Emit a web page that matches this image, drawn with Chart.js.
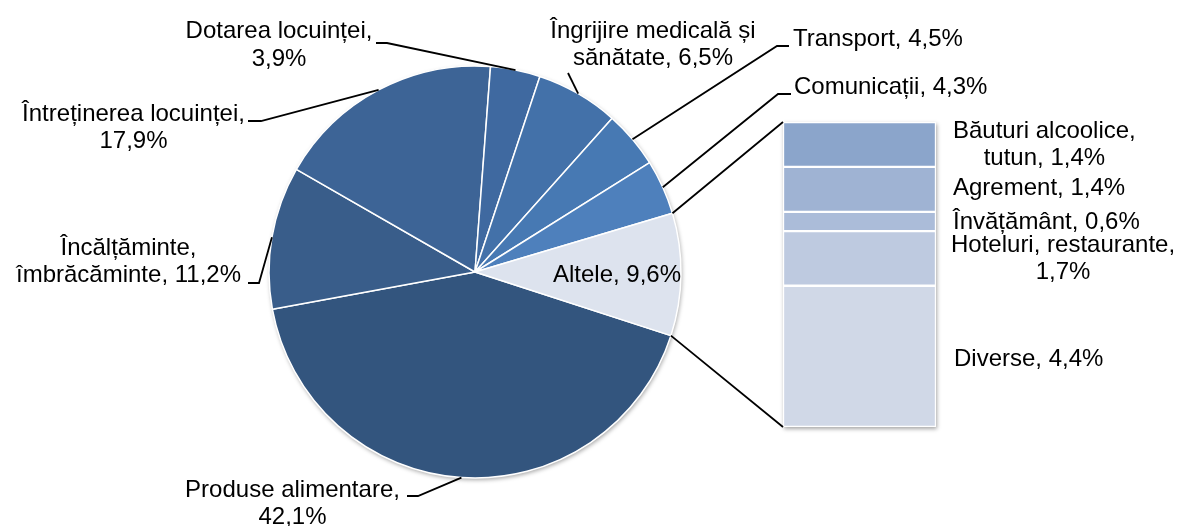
<!DOCTYPE html>
<html>
<head>
<meta charset="utf-8">
<script src="https://cdn.jsdelivr.net/npm/chart.js@4"></script>
<style>
  body { margin: 0; background: #fff; }
  #wrap { position: relative; width: 1179px; height: 526px; }
  canvas { position: absolute; left: 0; top: 0; }
</style>
</head>
<body>
<div id="wrap">
  <canvas id="pieChart" width="1179" height="526"></canvas>
  <canvas id="barChart" width="1179" height="526"></canvas>
</div>
<script>
// main pie, clockwise from the lower edge of "Altele"
const pieLabels = ["Produse alimentare", "Încălțăminte, îmbrăcăminte", "Întreținerea locuinței", "Dotarea locuinței",
  "Îngrijire medicală și sănătate", "Transport", "Comunicații", "Altele"];
const pieValues = [42.1, 11.2, 17.9, 3.9, 6.5, 4.5, 4.3, 9.6];
const pieColors = ["#33557e", "#395d8a", "#3d6496", "#3f69a0", "#4371a9", "#4779b3", "#4e80bc", "#dde3ee"];

// breakdown of "Altele", bottom to top
const barLabels = ["Diverse", "Hoteluri, restaurante", "Învățământ", "Agrement", "Băuturi alcoolice, tutun"];
const barValues = [4.4, 1.7, 0.6, 1.4, 1.4];
const barColors = ["#d0d8e7", "#becae0", "#abbcd9", "#9fb3d3", "#8ba5cb"];

// where the texts sit: x/y = first baseline, split = words on first line
const pieLabelPos = [
  { x: 292.5, y: 496.5, align: "center", split: 2, end: [407, 496], knee: [418, 496] },
  { x: 128.5, y: 254.5, align: "center", split: 1, end: [248, 283], knee: [259, 283] },
  { x: 133.5, y: 120.5, align: "center", split: 2, end: [248, 121], knee: [261, 121] },
  { x: 279, y: 38, align: "center", split: 2, end: [376, 43], knee: [387, 43] },
  { x: 653, y: 37.5, align: "center", split: 3, end: [568, 73], knee: [568, 73] },
  { x: 793, y: 45.5, align: "left", split: 0, end: [789, 46], knee: [777, 46] },
  { x: 794, y: 93.5, align: "left", split: 0, end: [791, 94], knee: [778, 94] },
  { x: 617, y: 281.5, align: "center", split: 0 }
];
const barLabelPos = [
  { x: 954, y: 365.5, split: 0 },
  { x: 951, y: 251.5, split: 2 },
  { x: 953, y: 228.5, split: 0 },
  { x: 953, y: 195, split: 0 },
  { x: 953, y: 137.5, split: 2 }
];

const FONT = "24px 'Liberation Sans', Arial, sans-serif";
const LINE_H = 27.5;

function fmt(v) {
  return v.toFixed(1).replace(".", ",") + "%";
}

function labelLines(name, value, split) {
  const words = (name + ", " + fmt(value)).split(" ");
  if (!split) return [words.join(" ")];
  return [words.slice(0, split).join(" "), words.slice(split).join(" ")];
}

function drawLabel(ctx, lines, pos, align) {
  ctx.save();
  ctx.font = FONT;
  ctx.fillStyle = "#000";
  ctx.textBaseline = "alphabetic";
  ctx.textAlign = "center";
  const blockW = Math.max(...lines.map(l => ctx.measureText(l).width));
  const cx = align === "center" ? pos.x : pos.x + blockW / 2;
  lines.forEach((line, i) => ctx.fillText(line, cx, pos.y + i * LINE_H));
  ctx.restore();
}

const pieDecor = {
  id: "pieDecor",
  beforeDatasetsDraw(chart) {
    const arc = chart.getDatasetMeta(0).data[0];
    const ctx = chart.ctx;
    ctx.save();
    ctx.shadowColor = "rgba(0,0,0,0.35)";
    ctx.shadowBlur = 4;
    ctx.shadowOffsetX = 1;
    ctx.shadowOffsetY = 2;
    ctx.fillStyle = "#fff";
    ctx.beginPath();
    ctx.arc(arc.x, arc.y, arc.outerRadius, 0, Math.PI * 2);
    ctx.fill();
    ctx.restore();
  },
  afterDraw(chart) {
    const ctx = chart.ctx;
    const arcs = chart.getDatasetMeta(0).data;
    arcs.forEach((arc, i) => {
      const pos = pieLabelPos[i];
      if (pos.end) {
        const mid = (arc.startAngle + arc.endAngle) / 2;
        const px = arc.x + Math.cos(mid) * arc.outerRadius;
        const py = arc.y + Math.sin(mid) * arc.outerRadius;
        ctx.save();
        ctx.strokeStyle = "#000";
        ctx.lineWidth = 1.8;
        ctx.beginPath();
        ctx.moveTo(px, py);
        ctx.lineTo(pos.knee[0], pos.knee[1]);
        ctx.lineTo(pos.end[0], pos.end[1]);
        ctx.stroke();
        ctx.restore();
      }
      drawLabel(ctx, labelLines(pieLabels[i], pieValues[i], pos.split), pos, pos.align);
    });
  }
};

const pieChart = new Chart(document.getElementById("pieChart"), {
  type: "pie",
  data: {
    labels: pieLabels,
    datasets: [{
      data: pieValues,
      backgroundColor: pieColors,
      borderColor: "#fff",
      borderWidth: 1.5
    }]
  },
  options: {
    responsive: false,
    animation: false,
    events: [],
    rotation: 108,
    radius: 206,
    layout: { padding: { left: 0, right: 229, top: 18, bottom: 0 } },
    plugins: { legend: { display: false }, tooltip: { enabled: false } }
  },
  plugins: [pieDecor]
});

const barTotal = barValues.reduce((a, b) => a + b, 0);

function barBox(chart) {
  const els = chart.data.datasets.map((d, i) => chart.getDatasetMeta(i).data[0]);
  return {
    left: Math.min(...els.map(e => e.x - e.width / 2)),
    right: Math.max(...els.map(e => e.x + e.width / 2)),
    top: Math.min(...els.map(e => Math.min(e.y, e.base))),
    bottom: Math.max(...els.map(e => Math.max(e.y, e.base)))
  };
}

const barDecor = {
  id: "barDecor",
  beforeDatasetsDraw(chart) {
    const b = barBox(chart);
    const ctx = chart.ctx;
    ctx.save();
    ctx.shadowColor = "rgba(0,0,0,0.35)";
    ctx.shadowBlur = 4;
    ctx.shadowOffsetX = 1;
    ctx.shadowOffsetY = 2;
    ctx.fillStyle = "#fff";
    ctx.fillRect(b.left, b.top, b.right - b.left, b.bottom - b.top);
    ctx.restore();
  },
  afterDraw(chart) {
    const ctx = chart.ctx;
    const b = barBox(chart);
    // lines joining the "Altele" slice to the bar
    const other = pieChart.getDatasetMeta(0).data[pieValues.length - 1];
    const sx = other.x + Math.cos(other.startAngle) * other.outerRadius;
    const sy = other.y + Math.sin(other.startAngle) * other.outerRadius;
    const ex = other.x + Math.cos(other.endAngle) * other.outerRadius;
    const ey = other.y + Math.sin(other.endAngle) * other.outerRadius;
    ctx.save();
    ctx.strokeStyle = "#000";
    ctx.lineWidth = 1.8;
    ctx.beginPath();
    ctx.moveTo(sx, sy);
    ctx.lineTo(b.left, b.top);
    ctx.moveTo(ex, ey);
    ctx.lineTo(b.left, b.bottom);
    ctx.stroke();
    ctx.restore();

    barLabels.forEach((name, i) => {
      drawLabel(ctx, labelLines(name, barValues[i], barLabelPos[i].split), barLabelPos[i], "left");
    });
  }
};

const barChart = new Chart(document.getElementById("barChart"), {
  type: "bar",
  data: {
    labels: [""],
    datasets: barLabels.map((name, i) => ({
      label: name,
      data: [barValues[i]],
      backgroundColor: barColors[i],
      borderColor: "#fff",
      borderWidth: 1.5,
      borderSkipped: false,
      barPercentage: 1,
      categoryPercentage: 1
    }))
  },
  options: {
    responsive: false,
    animation: false,
    events: [],
    layout: { padding: { left: 783, right: 243, top: 122, bottom: 99 } },
    scales: {
      x: { display: false, stacked: true },
      y: { display: false, stacked: true, min: 0, max: barTotal }
    },
    plugins: { legend: { display: false }, tooltip: { enabled: false } }
  },
  plugins: [barDecor]
});
</script>
</body>
</html>
